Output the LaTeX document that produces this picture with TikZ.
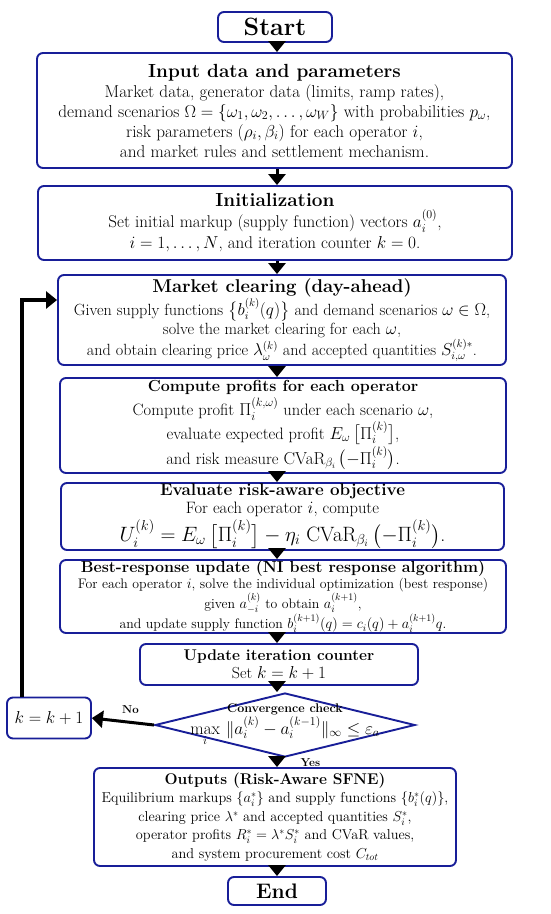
\documentclass[tikz,border=0pt]{standalone}
\usepackage{amsmath,amssymb}
\usetikzlibrary{arrows.meta,shapes.geometric}
\definecolor{boxblue}{RGB}{24,30,152}
\newcommand{\fsz}[2]{\fontsize{#1}{#2}\selectfont}
\newcommand{\cvar}{\mathrm{CVaR}_{\beta_i}}
\begin{document}
\begin{tikzpicture}[x=1pt,y=-1pt]
  \tikzstyle{every node}=[align=center,inner sep=0pt]
  \tikzstyle{stepbox}=[rectangle,rounded corners=6pt,draw=boxblue,line width=1.9pt,fill=white]
  \tikzstyle{flow}=[line width=3pt,-{Triangle[length=11pt,width=17pt]}]
  \useasboundingbox (0,0) rectangle (550,914);
  \coordinate (spine) at (277,0);
  \coordinate (loop) at (22,300);
  % main column
  \node[stepbox,minimum width=114pt,minimum height=30pt] (start) at (275,27)
    {\fsz{25}{28}\bfseries Start};
  \node[stepbox,minimum width=475pt,minimum height=115pt,font=\fsz{17.2}{20}] (input) at (274.5,110.5)
    {{\fsz{19}{22}\bfseries Input data and parameters}\\
     Market data, generator data (limits, ramp rates),\\
     demand scenarios $\Omega=\{\omega_1,\omega_2,\dots,\omega_W\}$ with probabilities $p_\omega$,\\
     risk parameters $(\rho_i,\beta_i)$ for each operator $i$,\\
     and market rules and settlement mechanism.};
  \node[stepbox,minimum width=474pt,minimum height=74pt,font=\fsz{17}{21}] (init) at (275,223)
    {{\fsz{19}{22}\bfseries Initialization}\\
     Set initial markup (supply function) vectors\ $a_i^{(0)}$,\\
     $i=1,\dots,N$,\ and iteration counter\ $k=0$.};
  \node[stepbox,minimum width=448pt,minimum height=90pt,font=\fsz{16.2}{19}] (market) at (282,320)
    {{\fsz{18.5}{21}\bfseries Market clearing (day-ahead)}\\[1pt]
     Given supply functions\ $\bigl\{b_i^{(k)}(q)\bigr\}$\ and demand scenarios $\omega\in\Omega$,\\
     solve the market clearing for each $\omega$,\\
     and obtain clearing price\ $\lambda_\omega^{(k)}$\ and accepted quantities\ $S_{i,\omega}^{(k)*}$.};
  \node[stepbox,minimum width=446pt,minimum height=95pt,font=\fsz{16.5}{20}] (profit) at (283,425.5)
    {{\fsz{16}{19}\bfseries Compute profits for each operator}\\[2pt]
     Compute profit\ $\Pi_i^{(k,\omega)}$\ under each scenario $\omega$,\\
     evaluate expected profit\ $E_\omega\,\bigl[\Pi_i^{(k)}\bigr]$,\\
     and risk measure\ $\cvar\,\bigl(-\Pi_i^{(k)}\bigr)$.};
  \node[stepbox,minimum width=443pt,minimum height=67pt,font=\fsz{16.5}{18}] (objective) at (282.5,516.5)
    {{\fsz{17}{19}\bfseries Evaluate risk-aware objective}\\
     For each operator\ $i$, compute\\[2pt]
     {\fsz{20}{22}$U_i^{(k)}=E_\omega\,\bigl[\Pi_i^{(k)}\bigr]-\eta_i\;\cvar\,\bigl(-\Pi_i^{(k)}\bigr)$.}};
  \node[stepbox,minimum width=446pt,minimum height=73pt,font=\fsz{13.8}{16.5}] (best) at (283,596.5)
    {{\fsz{16}{18}\bfseries Best-response update (NI best response algorithm)}\\
     For each operator\ $i$, solve the individual optimization (best response)\\
     given\ $a_{-i}^{(k)}$\ to obtain\ $a_i^{(k+1)}$,\\
     and update supply function\ $b_i^{(k+1)}(q)=c_i(q)+a_i^{(k+1)}q$.};
  \node[stepbox,minimum width=278pt,minimum height=41pt,font=\fsz{16}{18}] (update) at (279,664.5)
    {{\fsz{15.5}{18}\bfseries Update iteration counter}\\
     Set\ $k=k+1$};
  \node[diamond,draw=boxblue,line width=1.9pt,fill=white,minimum width=260pt,minimum height=64pt] (check) at (285,725)
    {\raisebox{-4pt}{\makebox[0pt]{\smash{\fsz{16.5}{19}%
     \begin{tabular}{@{}c@{}}{\fsz{12.5}{15}\bfseries Convergence check}\\[-2pt]
     $\max\limits_i\,\|a_i^{(k)}-a_i^{(k-1)}\|_\infty\le\varepsilon_a$\end{tabular}}}}};
  \node[stepbox,minimum width=84pt,minimum height=41pt,font=\fsz{16.5}{19}] (kbox) at (49,718)
    {$k=k+1$};
  \node[stepbox,minimum width=362pt,minimum height=98pt,font=\fsz{14.3}{18.5}] (outputs) at (275,817)
    {{\fsz{15.5}{18}\bfseries Outputs (Risk-Aware SFNE)}\\
     Equilibrium markups\ $\{a_i^*\}$\ and supply functions\ $\{b_i^*(q)\}$,\\
     clearing price\ $\lambda^*$\ and accepted quantities\ $S_i^*$,\\
     operator profits\ $R_i^*=\lambda^*S_i^*$\ and CVaR values,\\
     and system procurement cost\ $C_{tot}$};
  \node[stepbox,minimum width=98pt,minimum height=28pt] (end) at (277,891)
    {\fsz{21}{24}\bfseries End};
  % connectors
  \draw[flow] (start.south -| spine) -- (input.north -| spine);
  \draw[flow] (input.south -| spine) -- (init.north -| spine);
  \draw[flow] (init.south -| spine) -- (market.north -| spine);
  \draw[flow] (market.south -| spine) -- (profit.north -| spine);
  \draw[flow] (profit.south -| spine) -- (objective.north -| spine);
  \draw[flow] (objective.south -| spine) -- (best.north -| spine);
  \draw[flow] (best.south -| spine) -- (update.north -| spine);
  \draw[flow] (update.south -| spine) -- (check.north -| spine);
  \draw[flow] (check.south -| spine) -- node[right=22pt,font=\fsz{11.5}{13}\bfseries] {Yes} (outputs.north -| spine);
  \draw[flow] (outputs.south -| spine) -- (end.north -| spine);
  \draw[flow] (check.west) -- node[pos=0.38,above=7pt,font=\fsz{11.5}{13}\bfseries] {No} (kbox.east);
  \draw[flow,line width=3.5pt] (kbox.north -| loop) |- (market.west |- loop);
\end{tikzpicture}
\end{document}
